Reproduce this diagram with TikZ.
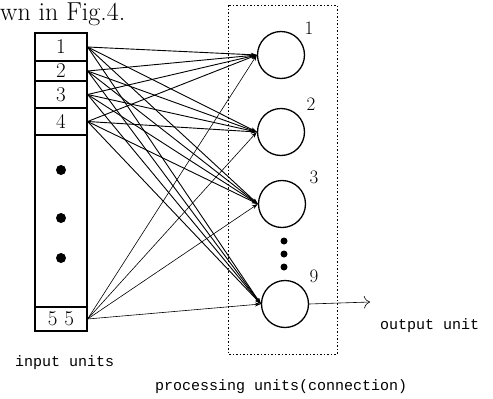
\documentclass[tikz,border=0pt]{standalone}
\usepackage{fontspec}
\setmonofont{Liberation Mono}
\usetikzlibrary{arrows.meta,shapes.misc}

\begin{document}
\begin{tikzpicture}[x=1pt,y=-1pt,
    cell/.style={draw,line width=1.2pt,minimum width=52pt,inner sep=0pt,font=\fontsize{21}{21}\selectfont},
    unit/.style={circle,draw,line width=1.3pt,minimum size=47pt,inner sep=0pt},
    blob/.style={circle,fill,inner sep=0pt,minimum size=#1},
    num/.style={font=\fontsize{19}{19}\selectfont,inner sep=0pt},
    conn/.style={line width=0.9pt,-{Stealth[length=6pt,width=4pt]}},
    lbl/.style={font=\fontsize{15}{15}\selectfont\ttfamily,anchor=west,inner sep=0pt}]
  \useasboundingbox (0,0) rectangle (493,399);
  \node[font=\fontsize{26}{26}\selectfont,anchor=base west,inner sep=0pt] (fig) at (0,20) {wn in Fig.4.};
  % input units
  \node[cell,minimum height=28pt] (i1) at (61,47) {1};
  \node[cell,minimum height=20pt] (i2) at (61,71) {2};
  \node[cell,minimum height=27pt] (i3) at (61,94.5) {3};
  \node[cell,minimum height=27pt] (i4) at (61,121.5) {4};
  \node[cell,minimum height=172pt] (imid) at (61,221) {};
  \node[cell,minimum height=24pt] (i55) at (61,319) {5\,\,5};
  \node[blob=10pt] (d1) at (61,170) {};
  \node[blob=10pt] (d2) at (61,218) {};
  \node[blob=10pt] (d3) at (61,258) {};
  % processing units
  \draw[line width=0.9pt,dash pattern=on 1.5pt off 2pt] (228,5) rectangle (337,354);
  \node[unit] (c1) at (281,55) {};
  \node[unit] (c2) at (281,132) {};
  \node[unit] (c3) at (282,204) {};
  \node[unit] (c9) at (285,304) {};
  \node[num] (n1) at (309,28) {1};
  \node[num] (n2) at (311,104) {2};
  \node[num] (n3) at (314,177) {3};
  \node[num] (n9) at (314,276) {9};
  \node[blob=7pt] (e1) at (284,241) {};
  \node[blob=7pt] (e2) at (284,254) {};
  \node[blob=7pt] (e3) at (284,267) {};
  % connections
  \foreach \a in {i1,i2,i3,i4}
    \foreach \b in {c1,c2,c3,c9}
      \draw[conn] (\a.east) -- (\b.west);
  \foreach \b in {c1,c2,c3,c9}
    \draw[conn,line width=0.6pt] (i55.east) -- (\b.west);
  % output
  \coordinate (out) at (370,302);
  \draw[line width=0.6pt,-{To[length=6pt]}] (c9.east) -- (out);
  \node[lbl] (outlbl) at (380,326) {output unit};
  \node[lbl] (inlbl) at (15,363) {input units};
  \node[lbl] (proclbl) at (155,387) {processing units(connection)};
\end{tikzpicture}
\end{document}
